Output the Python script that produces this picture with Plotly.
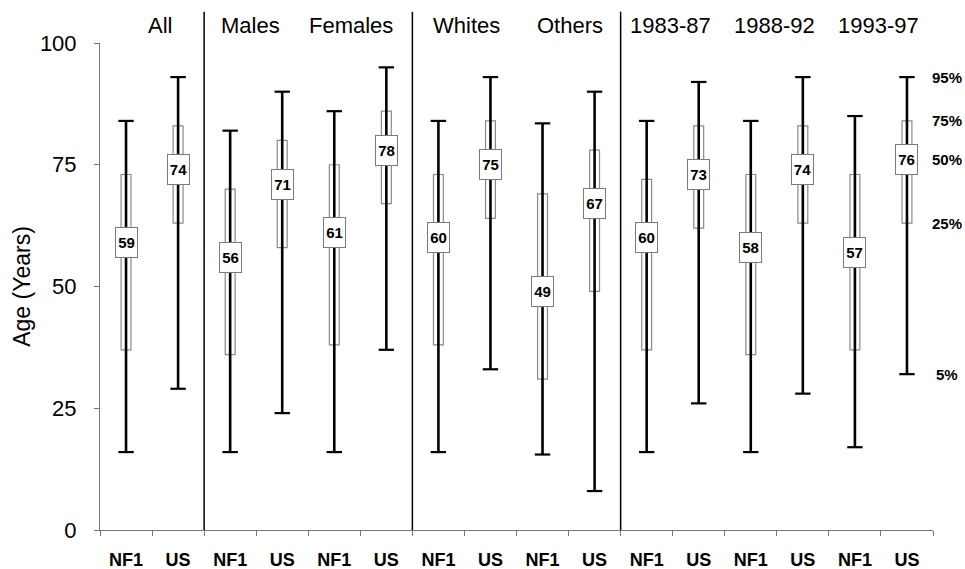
import plotly.graph_objects as go

# ---- data ----
groups = ["All", "Males", "Females", "Whites", "Others", "1983-87", "1988-92", "1993-97"]
categories = ["NF1", "US"] * 8
p95 = [84, 93, 82, 90, 86, 95, 84, 93, 83.5, 90, 84, 92, 84, 93, 85, 93]
p75 = [73, 83, 70, 80, 75, 86, 73, 84, 69, 78, 72, 83, 73, 83, 73, 84]
p50 = [59, 74, 56, 71, 61, 78, 60, 75, 49, 67, 60, 73, 58, 74, 57, 76]
p25 = [37, 63, 36, 58, 38, 67, 38, 64, 31, 49, 37, 62, 36, 63, 37, 63]
p05 = [16, 29, 16, 24, 16, 37, 16, 33, 15.5, 8, 16, 26, 16, 28, 17, 32]
pct_labels = ["95%", "75%", "50%", "25%", "5%"]
group_label_pos = [0.65, 2.4, 4.33, 6.54, 8.52, 10.46, 12.46, 14.46]
divider_after = [2, 6, 10]

FONT = "Liberation Sans, Arial, sans-serif"
xs = list(range(len(categories)))

fig = go.Figure()

# boxes (25-75)
fig.add_trace(go.Bar(
    x=xs, y=[a - b for a, b in zip(p75, p25)], base=p25, width=0.19,
    marker=dict(color="white", line=dict(color="#8a8a8a", width=1.2)),
    hoverinfo="skip", showlegend=False))

# whiskers (5-95)
for i in xs:
    fig.add_trace(go.Scatter(
        x=[i, i], y=[p05[i], p95[i]], mode="lines",
        line=dict(color="black", width=2.6), showlegend=False, hoverinfo="skip"))

# caps
fig.add_trace(go.Scatter(
    x=xs + xs, y=p05 + p95, mode="markers",
    marker=dict(symbol="line-ew", size=11, line=dict(color="black", width=2.2)),
    showlegend=False, hoverinfo="skip"))

annotations = []
# median labels
for i in xs:
    annotations.append(dict(
        x=i, y=p50[i], xref="x", yref="y", text="<b>%d</b>" % p50[i],
        showarrow=False, font=dict(family=FONT, size=15, color="black"),
        bgcolor="white", bordercolor="#7a7a7a", borderwidth=1,
        width=19, height=27, borderpad=1))

# group labels
for g, pos in zip(groups, group_label_pos):
    annotations.append(dict(
        x=pos, y=1.035, xref="x", yref="paper", yanchor="middle", text=g,
        showarrow=False, font=dict(family=FONT, size=22, color="black")))

# percentile labels on the right (aligned with last series)
last = len(categories) - 1
for lab, val in zip(pct_labels, [p95[last], p75[last], p50[last], p25[last], p05[last]]):
    annotations.append(dict(
        x=1, y=val, xref="paper", yref="y", xanchor="center", xshift=14,
        text="<b>%s</b>" % lab, showarrow=False,
        font=dict(family=FONT, size=15, color="black")))

shapes = []
for d in divider_after:
    shapes.append(dict(type="line", xref="x", yref="paper",
                       x0=d - 0.5, x1=d - 0.5, y0=0, y1=1.064,
                       line=dict(color="black", width=1.5)))

fig.update_layout(
    width=965, height=569,
    margin=dict(l=100, r=32, t=43, b=39),
    paper_bgcolor="white", plot_bgcolor="white",
    font=dict(family=FONT, color="black"),
    showlegend=False,
    annotations=annotations, shapes=shapes,
    xaxis=dict(
        range=[-0.5, 15.5], tickmode="array", tickvals=xs, automargin=False,
        ticktext=["<b>%s</b>" % c for c in categories],
        ticks="", tickfont=dict(family=FONT, size=18, color="black"),
        showline=True, linecolor="#777", linewidth=1, showgrid=False, zeroline=False,
        ticklabelstandoff=13,
        minor=dict(tickmode="array", tickvals=[k - 0.5 for k in range(17)],
                   ticks="outside", ticklen=5, tickcolor="#777", tickwidth=1, showgrid=False)),
    yaxis=dict(
        range=[0, 100], tickvals=[0, 25, 50, 75, 100], ticks="outside", automargin=False,
        ticklen=5, tickcolor="#777", tickfont=dict(family=FONT, size=22, color="black"),
        showline=True, linecolor="#777", linewidth=1, showgrid=False, zeroline=False,
        ticklabelstandoff=13,
        title=dict(text="Age (Years)", font=dict(family=FONT, size=23, color="black"), standoff=2)),
)

fig.write_html("out.html", config={"displayModeBar": False},
               post_script="document.body.style.margin='0';document.body.style.overflow='hidden';")
